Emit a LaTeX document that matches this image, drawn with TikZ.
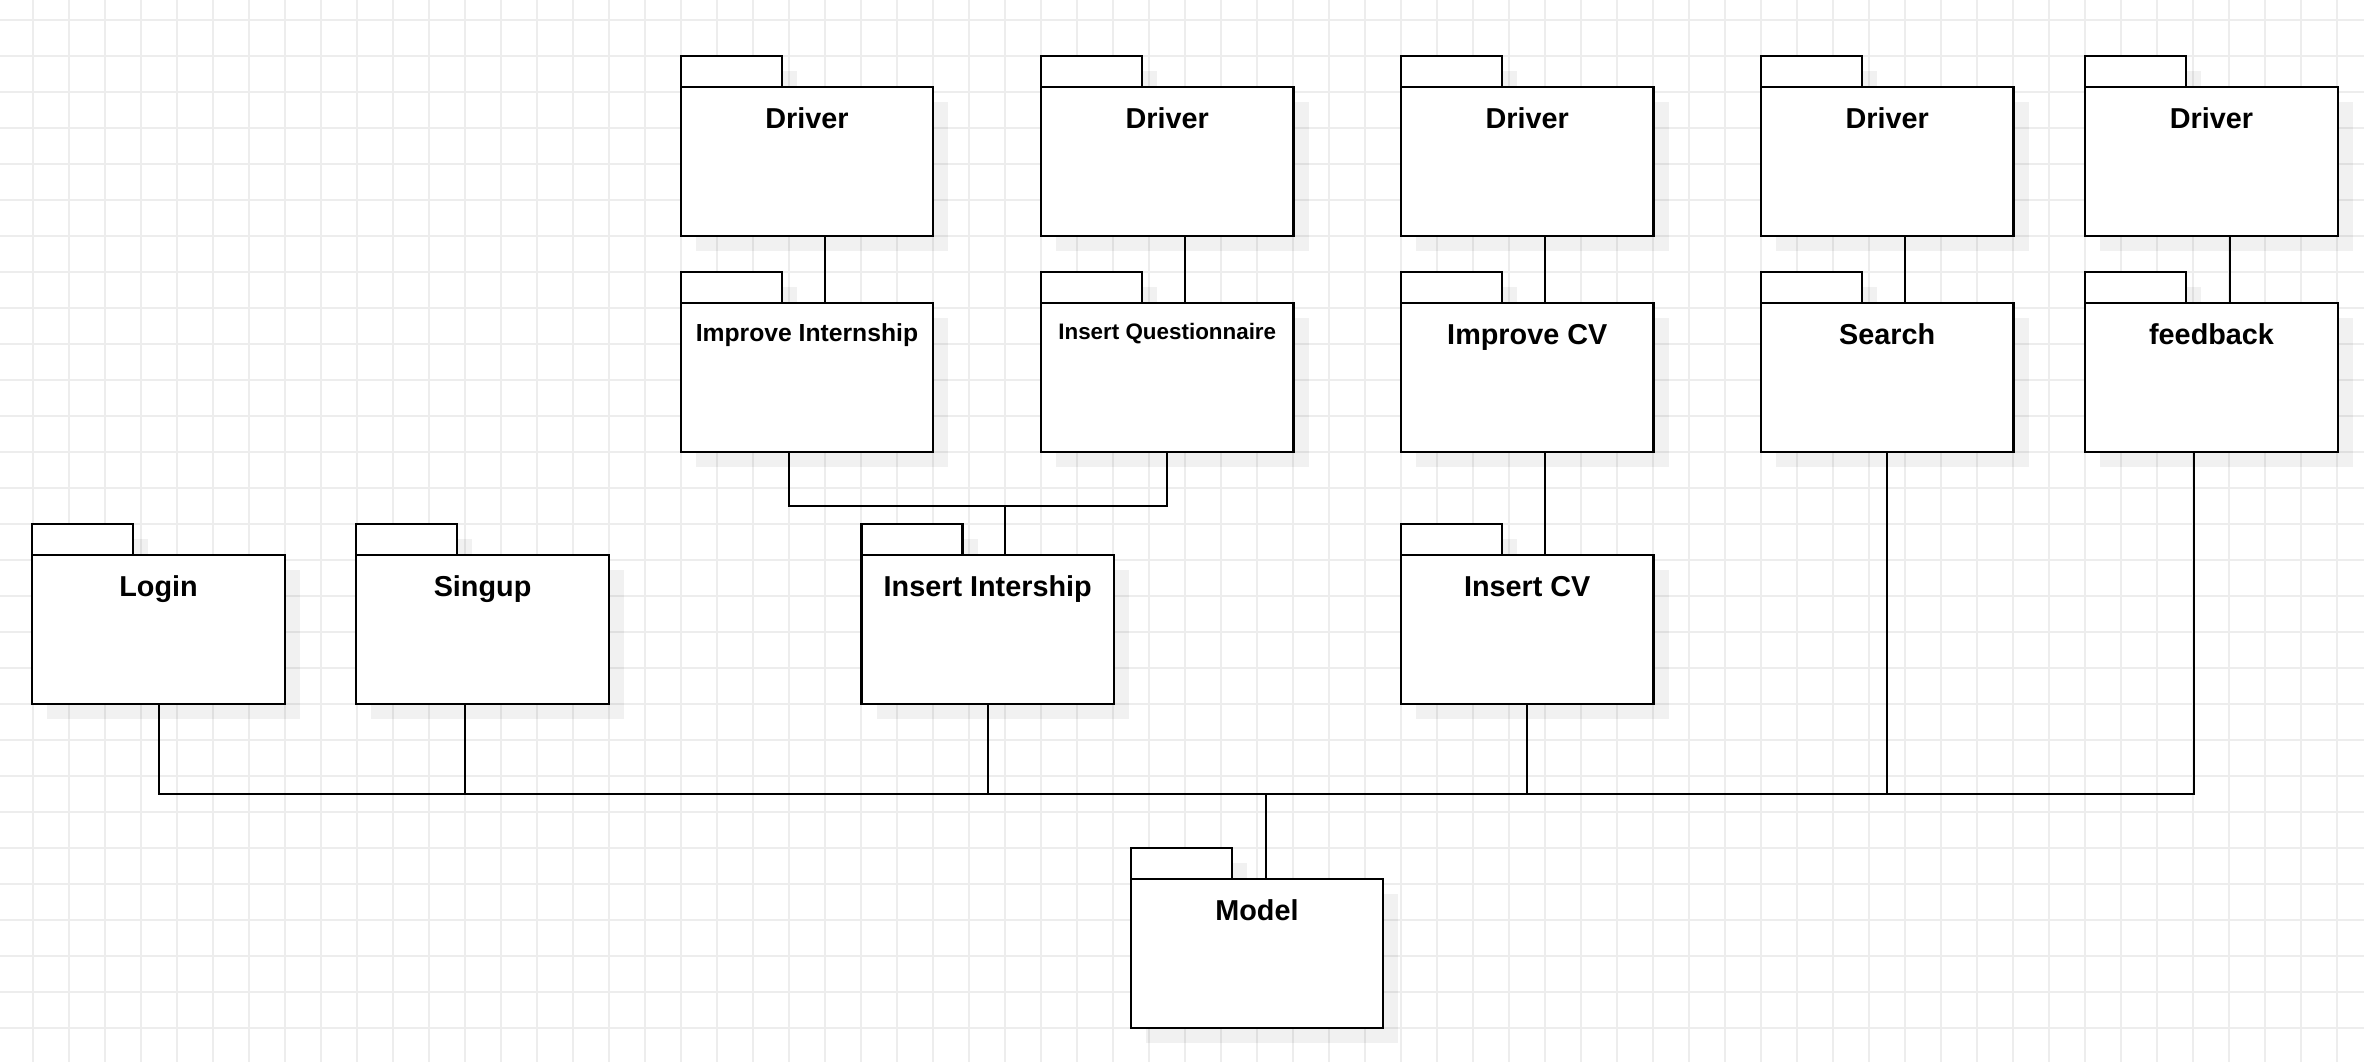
\documentclass[tikz,border=0pt]{standalone}
\usepackage{fontspec}
\setmainfont{Liberation Sans}
\usetikzlibrary{calc}
\definecolor{gridc}{HTML}{EDEDED}
\tikzset{
  gridline/.style={draw=gridc, line width=1.1pt},
  pkgshadow/.style={fill=black, fill opacity=0.055},
  pkgline/.style={draw=black, line width=2.2pt, fill=white},
  pkgbody/.style={draw=black, line width=2.2pt, fill=white, rectangle,
    minimum width=252.5pt, minimum height=148.5pt, inner sep=0pt, outer sep=0pt, anchor=north west},
  pkglabel/.style={anchor=base, inner sep=0pt, outer sep=0pt, text=black},
  conn/.style={draw=black, line width=2pt},
  bigf/.style={font=\fontsize{28.8}{34}\selectfont\bfseries},
  midf/.style={font=\fontsize{24.7}{30}\selectfont\bfseries},
  smallf/.style={font=\fontsize{22.4}{27}\selectfont\bfseries}
}
% #1 name, #2 x, #3 body top y, #4 label, #5 font style, #6 baseline offset
\newcommand\pkgbox[6]{%
  \fill[pkgshadow] (#2+15,#3-16.5) rectangle (#2+116,#3+15);
  \fill[pkgshadow] (#2+15,#3+15) rectangle (#2+267.5,#3+163.5);
  \draw[pkgline] (#2,#3-31.5) rectangle (#2+101,#3);
  \node[pkgbody] (#1) at (#2,#3) {};
  \node[pkglabel,#5] (#1-t) at ([yshift=-#6pt]#1.north) {#4};
}
\begin{document}
\begin{tikzpicture}[x=1pt,y=-1pt]
\useasboundingbox (0,0) rectangle (2364,1062);
\fill[white] (0,0) rectangle (2364,1062);
% grid
\foreach \gx in {33,69,...,2364} \draw[gridline] (\gx,0) -- (\gx,1062);
\foreach \gy in {20,56,...,1062} \draw[gridline] (0,\gy) -- (2364,\gy);
% packages row 1
\pkgbox{d1}{680.7}{87.3}{Driver}{bigf}{41}
\pkgbox{d2}{1041}{87.3}{Driver}{bigf}{41}
\pkgbox{d3}{1401}{87.3}{Driver}{bigf}{41}
\pkgbox{d4}{1761}{87.3}{Driver}{bigf}{41}
\pkgbox{d5}{2085.3}{87.3}{Driver}{bigf}{41}
% row 2
\pkgbox{ii}{680.7}{303.3}{Improve Internship}{midf}{37.7}
\pkgbox{iq}{1041}{303.3}{Insert Questionnaire}{smallf}{36}
\pkgbox{icv}{1401}{303.3}{Improve CV}{bigf}{41}
\pkgbox{srch}{1761}{303.3}{Search}{bigf}{41}
\pkgbox{fb}{2085.3}{303.3}{feedback}{bigf}{41}
% row 3
\pkgbox{login}{32.3}{555.3}{Login}{bigf}{41}
\pkgbox{singup}{356.3}{555.3}{Singup}{bigf}{41}
\pkgbox{ins}{861.5}{555.3}{Insert Intership}{bigf}{41}
\pkgbox{inscv}{1401}{555.3}{Insert CV}{bigf}{41}
% model
\pkgbox{model}{1130.7}{879.3}{Model}{bigf}{41}
% connectors driver -> feature
\draw[conn] ([xshift=18pt]d1.south) -- ([xshift=18pt]ii.north);
\draw[conn] ([xshift=18pt]d2.south) -- ([xshift=18pt]iq.north);
\draw[conn] ([xshift=18pt]d3.south) -- ([xshift=18pt]icv.north);
\draw[conn] ([xshift=18pt]d4.south) -- ([xshift=18pt]srch.north);
\draw[conn] ([xshift=18pt]d5.south) -- ([xshift=18pt]fb.north);
% improve internship / questionnaire -> insert intership
\coordinate (midy) at (0,505.5);
\coordinate (iiout) at ([xshift=-18pt]ii.south);
\coordinate (insin) at ([xshift=17pt]ins.north);
\draw[conn] (iiout) |- (iq.south |- midy) -- (iq.south);
\draw[conn] (insin) -- (insin |- midy);
% improve cv -> insert cv
\draw[conn] ([xshift=18pt]icv.south) -- ([xshift=18pt]inscv.north);
% bus to model
\coordinate (busy) at (0,794);
\coordinate (fbout) at ([xshift=-17.5pt]fb.south);
\coordinate (singout) at ([xshift=-17.5pt]singup.south);
\coordinate (modin) at ([xshift=9pt]model.north);
\draw[conn] (login.south) |- (fbout |- busy) -- (fbout);
\draw[conn] (singout) -- (singout |- busy);
\draw[conn] (ins.south) -- (ins.south |- busy);
\draw[conn] (inscv.south) -- (inscv.south |- busy);
\draw[conn] (srch.south) -- (srch.south |- busy);
\draw[conn] (modin) -- (modin |- busy);
\end{tikzpicture}
\end{document}
